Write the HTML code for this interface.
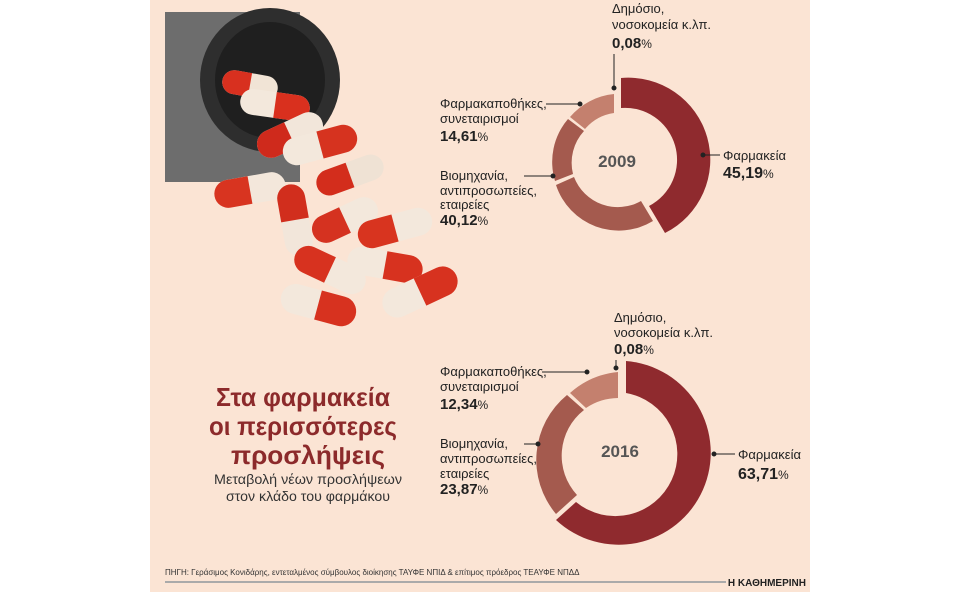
<!DOCTYPE html>
<html><head><meta charset="utf-8"><style>
body{margin:0;background:#fff;}
svg{display:block;font-family:"Liberation Sans","DejaVu Sans",sans-serif;}
</style></head><body>
<svg width="960" height="600" viewBox="0 0 960 600">
<rect x="150" y="0" width="660" height="592" fill="#fbe4d4"/>
<!-- bottle -->
<rect x="165" y="12" width="135" height="170" fill="#6d6d6d"/>
<ellipse cx="270" cy="80" rx="70" ry="72" fill="#2e2e2e"/>
<ellipse cx="270" cy="80" rx="55" ry="58" fill="#1f1f1f"/>
<!-- capsules -->
<g>
<g transform="translate(250,85) rotate(10)"><rect x="-28" y="-12" width="56" height="24" rx="12" fill="#f1e4d6"/><path d="M-16,-12 h-0 a12,12 0 0 0 0,24 h16 v-24z" fill="#d8301f"/></g>
<g transform="translate(275,105) rotate(8)"><rect x="-35" y="-13" width="70" height="26" rx="13" fill="#f3e8dc"/><path d="M0,-13 h22 a13,13 0 0 1 0,26 h-22z" fill="#d9301e"/></g>
<g transform="translate(290,135) rotate(-25)"><rect x="-35" y="-14" width="70" height="28" rx="14" fill="#f2e6da"/><path d="M0,-14 h-21 a14,14 0 0 0 0,28 h21z" fill="#cf2a1c"/></g>
<g transform="translate(320,145) rotate(-15)"><rect x="-38" y="-14" width="76" height="28" rx="14" fill="#f3e8dc"/><path d="M0,-14 h24 a14,14 0 0 1 0,28 h-24z" fill="#d6331f"/></g>
<g transform="translate(350,175) rotate(-20)"><rect x="-35" y="-13" width="70" height="26" rx="13" fill="#efe2d4"/><path d="M0,-13 h-22 a13,13 0 0 0 0,26 h22z" fill="#d32d1c"/></g>
<g transform="translate(250,190) rotate(-10)"><rect x="-36" y="-14" width="72" height="28" rx="14" fill="#f3e7db"/><path d="M0,-14 h-22 a14,14 0 0 0 0,28 h22z" fill="#d83420"/></g>
<g transform="translate(295,220) rotate(80)"><rect x="-36" y="-14" width="72" height="28" rx="14" fill="#f2e6da"/><path d="M0,-14 h-22 a14,14 0 0 0 0,28 h22z" fill="#d12e1d"/></g>
<g transform="translate(345,220) rotate(-25)"><rect x="-35" y="-14" width="70" height="28" rx="14" fill="#f3e8dc"/><path d="M0,-14 h-21 a14,14 0 0 0 0,28 h21z" fill="#d53220"/></g>
<g transform="translate(395,228) rotate(-15)"><rect x="-38" y="-14" width="76" height="28" rx="14" fill="#f3e8dc"/><path d="M0,-14 h-24 a14,14 0 0 0 0,28 h24z" fill="#d8341f"/></g>
<g transform="translate(330,270) rotate(25)"><rect x="-38" y="-14" width="76" height="28" rx="14" fill="#f3e8dc"/><path d="M0,-14 h-24 a14,14 0 0 0 0,28 h24z" fill="#d7321f"/></g>
<g transform="translate(385,265) rotate(10)"><rect x="-38" y="-14" width="76" height="28" rx="14" fill="#f3e8dc"/><path d="M0,-14 h24 a14,14 0 0 1 0,28 h-24z" fill="#d7321f"/></g>
<g transform="translate(318,305) rotate(15)"><rect x="-38" y="-15" width="76" height="30" rx="15" fill="#f3e8dc"/><path d="M0,-15 h24 a15,15 0 0 1 0,30 h-24z" fill="#d7321f"/></g>
<g transform="translate(420,292) rotate(-25)"><rect x="-40" y="-15" width="80" height="30" rx="15" fill="#f3e8dc"/><path d="M0,-15 h25 a15,15 0 0 1 0,30 h-25z" fill="#d7321f"/></g>
</g>
<!-- title -->
<g fill="#8c2a2b" font-weight="bold" font-size="26" text-anchor="middle" lengthAdjust="spacingAndGlyphs">
<text x="303" y="406" textLength="174" lengthAdjust="spacingAndGlyphs">Στα φαρμακεία</text>
<text x="303" y="435" textLength="188" lengthAdjust="spacingAndGlyphs">οι περισσότερες</text>
<text x="308" y="464" textLength="154" lengthAdjust="spacingAndGlyphs">προσλήψεις</text>
</g>
<g fill="#333" font-size="14" text-anchor="middle">
<text x="308" y="484" textLength="188" lengthAdjust="spacingAndGlyphs">Μεταβολή νέων προσλήψεων</text>
<text x="308" y="501" textLength="164" lengthAdjust="spacingAndGlyphs">στον κλάδο του φαρμάκου</text>
</g>
<!-- 2009 donut -->
<g>
<path d="M621,78 A82,82 0 0 1 665,233 L649,206 A52,52 0 0 0 621,108 Z" fill="#8f2a2e"/>
<path d="M653,221 A66,66 0 0 1 556,185 L574,177 A47,47 0 0 0 641,201 Z" fill="#a45a4e"/>
<path d="M555,181 A66,66 0 0 1 568,119 L584,131 A47,47 0 0 0 573,174 Z" fill="#a45a4e"/>
<path d="M570,117 A66,66 0 0 1 614,94 L614,113 A47,47 0 0 0 585,129 Z" fill="#c4806e"/>
<text x="617" y="167" text-anchor="middle" font-size="17" font-weight="bold" fill="#555">2009</text>
</g>
<!-- 2016 donut -->
<g>
<path d="M626,361 A92,92 0 1 1 556,520 L576,502 A62,62 0 1 0 626,393 Z" fill="#8f2a2e"/>
<path d="M556,514 A84,84 0 0 1 567,395 L584,410 A58,58 0 0 0 577,495 Z" fill="#a45a4e"/>
<path d="M570,393 A84,84 0 0 1 618,372 L618,398 A58,58 0 0 0 586,408 Z" fill="#c4806e"/>
<text x="620" y="457" text-anchor="middle" font-size="17" font-weight="bold" fill="#555">2016</text>
</g>
<!-- leaders -->
<g stroke="#222" stroke-width="1" fill="#222">
<line x1="614" y1="54" x2="614" y2="88"/><circle cx="614" cy="88" r="2"/>
<line x1="546" y1="104" x2="580" y2="104"/><circle cx="580" cy="104" r="2"/>
<line x1="524" y1="176" x2="553" y2="176"/><circle cx="553" cy="176" r="2"/>
<line x1="703" y1="155" x2="720" y2="155"/><circle cx="703" cy="155" r="2"/>
<line x1="616" y1="360" x2="616" y2="368"/><circle cx="616" cy="368" r="2"/>
<line x1="542" y1="372" x2="587" y2="372"/><circle cx="587" cy="372" r="2"/>
<line x1="524" y1="444" x2="538" y2="444"/><circle cx="538" cy="444" r="2"/>
<line x1="714" y1="454" x2="735" y2="454"/><circle cx="714" cy="454" r="2"/>
</g>
<!-- labels -->
<g fill="#222" font-size="13">
<text x="612" y="13">Δημόσιο,</text>
<text x="612" y="29">νοσοκομεία κ.λπ.</text>
<text x="612" y="48" font-weight="bold" font-size="15">0,08<tspan font-weight="normal" font-size="12">%</tspan></text>
<text x="440" y="108">Φαρμακαποθήκες,</text>
<text x="440" y="123">συνεταιρισμοί</text>
<text x="440" y="141" font-weight="bold" font-size="15">14,61<tspan font-weight="normal" font-size="12">%</tspan></text>
<text x="440" y="180">Βιομηχανία,</text>
<text x="440" y="195">αντιπροσωπείες,</text>
<text x="440" y="209">εταιρείες</text>
<text x="440" y="225" font-weight="bold" font-size="15">40,12<tspan font-weight="normal" font-size="12">%</tspan></text>
<text x="723" y="160">Φαρμακεία</text>
<text x="723" y="178" font-weight="bold" font-size="16">45,19<tspan font-weight="normal" font-size="12">%</tspan></text>

<text x="614" y="322">Δημόσιο,</text>
<text x="614" y="337">νοσοκομεία κ.λπ.</text>
<text x="614" y="354" font-weight="bold" font-size="15">0,08<tspan font-weight="normal" font-size="12">%</tspan></text>
<text x="440" y="376">Φαρμακαποθήκες,</text>
<text x="440" y="391">συνεταιρισμοί</text>
<text x="440" y="409" font-weight="bold" font-size="15">12,34<tspan font-weight="normal" font-size="12">%</tspan></text>
<text x="440" y="448">Βιομηχανία,</text>
<text x="440" y="463">αντιπροσωπείες,</text>
<text x="440" y="478">εταιρείες</text>
<text x="440" y="494" font-weight="bold" font-size="15">23,87<tspan font-weight="normal" font-size="12">%</tspan></text>
<text x="738" y="459">Φαρμακεία</text>
<text x="738" y="479" font-weight="bold" font-size="16">63,71<tspan font-weight="normal" font-size="12">%</tspan></text>
</g>
<!-- footer -->
<text x="165" y="575" font-size="8" fill="#333">ΠΗΓΗ: Γεράσιμος Κονιδάρης, εντεταλμένος σύμβουλος διοίκησης ΤΑΥΦΕ ΝΠΙΔ &amp; επίτιμος πρόεδρος ΤΕΑΥΦΕ ΝΠΔΔ</text>
<line x1="165" y1="582" x2="726" y2="582" stroke="#aaa" stroke-width="2"/>
<text x="806" y="586" font-size="10" font-weight="bold" fill="#222" text-anchor="end">Η ΚΑΘΗΜΕΡΙΝΗ</text>
</svg>
</body></html>
